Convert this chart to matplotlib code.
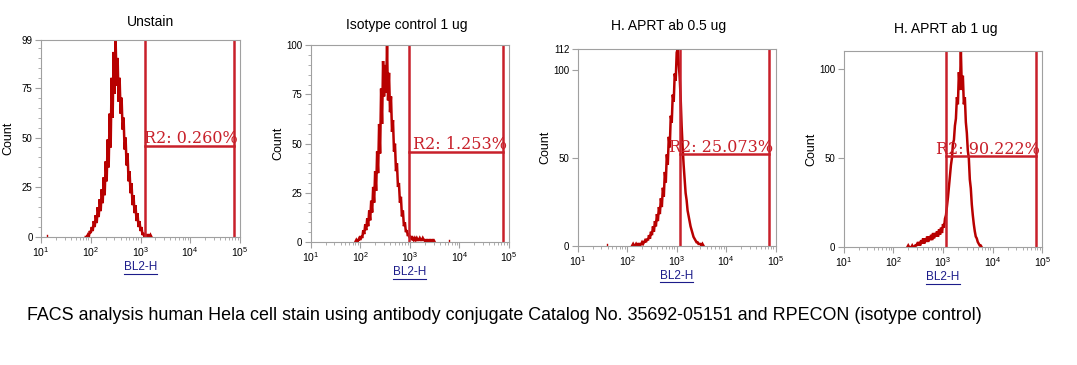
import matplotlib
matplotlib.use('Agg')
import matplotlib.pyplot as plt
from matplotlib.lines import Line2D
from matplotlib.ticker import LogLocator, MultipleLocator, NullFormatter, NullLocator
import numpy as np

plt.rcParams['font.family'] = ['Liberation Sans', 'DejaVu Sans']

# ---- data ----
titles = ['Unstain', 'Isotype control 1 ug', 'H. APRT ab 0.5 ug', 'H. APRT ab 1 ug']
gate_labels = ['R2: 0.260%', 'R2: 1.253%', 'R2: 25.073%', 'R2: 90.222%']
y_max = [99, 100, 112, 110]
y_ticks = [[0, 25, 50, 75, 99], [0, 25, 50, 75, 100], [0, 50, 100, 112], [0, 50, 100]]

# gate: left edge, right edge (BL2-H units) and height of the marker bar (counts)
gate_lo = [1230, 955, 1175, 1175]
gate_hi = [75900, 75900, 72400, 74100]
gate_y = [45.7, 45.9, 52, 51]

# histogram channels: first channel (log10 BL2-H), 0.02 decade per channel
chan_step = 0.02
chan_start = [1.90, 1.90, 2.10, 2.28]
counts_unstain = [0, 0, 1, 0, 3, 2, 5, 3, 8, 5, 11, 7, 15, 10, 19, 13, 24, 17, 30, 21,
                  38, 28, 49, 35, 62, 45, 80, 60, 93, 72, 99, 76, 90, 68, 80, 62, 70, 54,
                  60, 44, 50, 36, 42, 28, 33, 22, 27, 16, 21, 12, 16, 8, 12, 5, 8, 3, 5, 1,
                  2, 0, 1, 0, 1, 1, 0, 1, 0]
counts_isotype = [0, 1, 0, 1, 2, 1, 3, 2, 6, 4, 9, 6, 12, 8, 16, 11, 21, 15, 28, 20,
                  36, 26, 46, 35, 60, 45, 78, 60, 92, 74, 90, 76, 100, 72, 86, 66, 74,
                  56, 62, 46, 50, 36, 40, 28, 30, 20, 23, 13, 16, 8, 10, 5, 6, 3, 4, 2,
                  3, 1, 2, 1, 2, 1, 2, 1, 1, 2, 1, 1, 2, 1, 1, 0, 1, 1, 0, 1, 1, 0, 1, 1, 0]
counts_aprt05 = [0, 1, 0, 0, 1, 0, 1, 1, 0, 1, 2, 1, 2, 3, 2, 4, 3, 6, 4, 8, 6, 11, 8,
                 14, 11, 18, 14, 22, 18, 27, 22, 33, 28, 42, 36, 52, 46, 62, 56, 74, 70,
                 86, 82, 98, 94, 110, 112, 104, 96, 84, 68, 56, 46, 38, 30, 26, 20, 17,
                 14, 11, 9, 7, 5, 4, 3, 2, 2, 1, 1, 1, 0, 1, 0]
counts_aprt1 = [0, 1, 0, 0, 0, 1, 0, 0, 1, 1, 2, 1, 3, 1, 4, 2, 5, 2, 5, 3, 6, 3, 6, 4,
                7, 4, 8, 5, 8, 6, 9, 6, 10, 7, 11, 8, 13, 11, 16, 18, 23, 28, 34, 40, 46,
                50, 58, 60, 68, 72, 84, 80, 98, 88, 110, 88, 96, 80, 84, 70, 64, 54, 50,
                38, 33, 24, 18, 13, 9, 6, 5, 3, 2, 1, 1, 0]
counts = [counts_unstain, counts_isotype, counts_aprt05, counts_aprt1]

# isolated single events away from the main peak (BL2-H, count)
stray_x = [[13], [6300], [39, 33000], [200]]
stray_y = [[1], [1], [1], [1]]

# ---- layout (pixels of the 1077x365 reference) ----
W, H = 1077, 365
axes_px = [(41, 40, 240, 237), (310.7, 45.3, 509, 242),
           (577.7, 49, 775.7, 245.7), (843.7, 50.7, 1042.3, 247.3)]
title_px = [(150, 22), (407, 24.5), (669, 26), (946, 29)]
red = '#b80000'
gate_red = '#c8202a'
spine = '#a0a0a0'

fig = plt.figure(figsize=(W / 100, H / 100), dpi=100)
xlabels = []
for i in range(4):
    l, t, r, b = axes_px[i]
    ax = fig.add_axes([l / W, 1 - b / H, (r - l) / W, (b - t) / H])
    x = 10 ** (chan_start[i] + chan_step * np.arange(len(counts[i])))
    ax.plot(x, counts[i], color=red, lw=1.8, solid_joinstyle='miter')
    for sx, sy in zip(stray_x[i], stray_y[i]):
        ax.plot([sx, sx], [0, sy], color=red, lw=1)
    ax.set_xscale('log')
    ax.set_xlim(10, 1e5)
    ax.set_ylim(0, y_max[i])
    ax.set_yticks(y_ticks[i])
    if i < 2:
        ax.yaxis.set_minor_locator(MultipleLocator(5))
    else:
        ax.yaxis.set_minor_locator(NullLocator())
    ax.xaxis.set_major_locator(LogLocator(base=10, numticks=10))
    ax.xaxis.set_minor_locator(LogLocator(base=10, subs=np.arange(2, 10), numticks=20))
    ax.xaxis.set_minor_formatter(NullFormatter())

    # gate R2
    ax.axvline(gate_lo[i], color=gate_red, lw=1.8)
    ax.axvline(gate_hi[i], color=gate_red, lw=1.8)
    ax.plot([gate_lo[i], gate_hi[i]], [gate_y[i], gate_y[i]], color=gate_red, lw=1.8)
    ax.annotate(gate_labels[i], (gate_hi[i], gate_y[i]), xytext=(3, -1),
                textcoords='offset points', ha='right', va='bottom',
                color=gate_red, fontsize=11.5, family='DejaVu Serif')

    for s in ax.spines.values():
        s.set_color(spine)
        s.set_linewidth(0.8)
    ax.tick_params(which='both', color=spine, labelsize=7, pad=2)
    ax.tick_params(which='major', length=4)
    ax.tick_params(which='minor', length=2)
    ax.tick_params(axis='x', labelsize=7.5)

    ax.set_ylabel('Count', fontsize=9)
    ax.yaxis.set_label_coords(-0.135, 0.5)

    tx, ty = title_px[i]
    fig.text(tx / W, 1 - ty / H, titles[i], ha='center', va='center', fontsize=10)

    xl = fig.text((l + r) / 2 / W, 1 - (b + 30) / H, 'BL2-H', ha='center',
                  va='center', fontsize=8.5, color='#1c1c8a')
    xlabels.append(xl)

fig.text(27 / W, 1 - 316 / H,
         'FACS analysis human Hela cell stain using antibody conjugate Catalog No. '
         '35692-05151 and RPECON (isotype control)',
         ha='left', va='center', fontsize=12.9)

# underline the channel name, as the cytometer software does
fig.canvas.draw()
ren = fig.canvas.get_renderer()
for xl in xlabels:
    bb = xl.get_window_extent(ren)
    y0 = bb.y0 - 0.5
    fig.add_artist(Line2D([bb.x0 / W, bb.x1 / W], [y0 / H, y0 / H],
                          transform=fig.transFigure, color='#1c1c8a', lw=0.8))

fig.savefig('out.png', dpi=100)
